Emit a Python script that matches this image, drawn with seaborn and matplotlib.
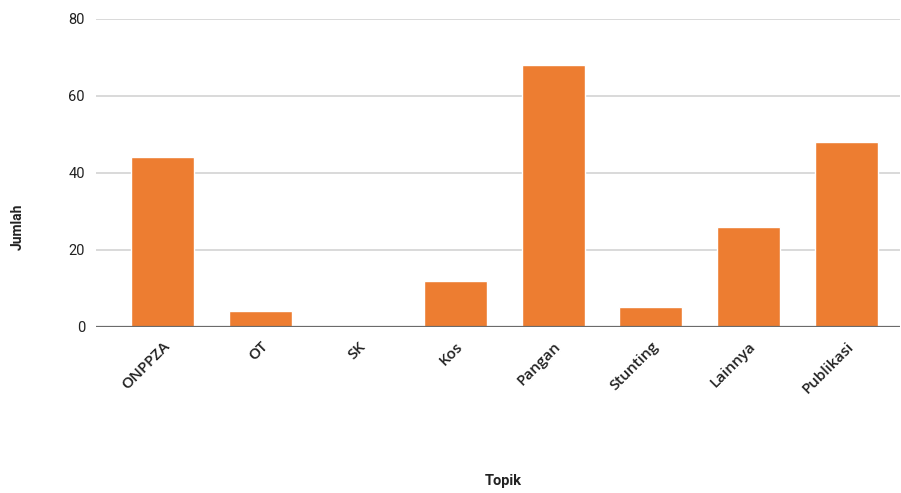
import matplotlib
matplotlib.use("Agg")
import matplotlib.pyplot as plt
import seaborn as sns
import pandas as pd

categories = ["ONPPZA", "OT", "SK", "Kos", "Pangan", "Stunting", "Lainnya", "Publikasi"]
counts = [44, 4, 0, 12, 68, 5, 26, 48]
y_ticks = [0, 20, 40, 60, 80]

df = pd.DataFrame({"Topik": categories, "Jumlah": counts})

sns.set_theme(style="white")
plt.rcParams["font.family"] = ["Open Sans", "DejaVu Sans"]

fig = plt.figure(figsize=(9.01, 4.93), dpi=100)
ax = fig.add_axes([96 / 901, 1 - 326.7 / 493, (900 - 96) / 901, (326.7 - 19) / 493])

sns.barplot(data=df, x="Topik", y="Jumlah", color="#ED7D31", width=0.645,
            saturation=1, ax=ax, zorder=3)

ax.set_ylim(0, 80)
ax.set_xlim(-0.68, 7.55)
ax.set_yticks(y_ticks)
ax.set_yticklabels([str(t) for t in y_ticks], fontsize=10.5, color="#222222",
                   fontfamily="Roboto")
ax.yaxis.grid(True, color="#d0d0d0", linewidth=1.1, zorder=0)
ax.set_axisbelow(True)
ax.axhline(0, color="#6b6b6b", linewidth=1.6, zorder=4)
for s in ax.spines.values():
    s.set_visible(False)
ax.tick_params(axis="y", length=0, pad=8)
ax.tick_params(axis="x", length=0, pad=9)

ax.set_xticks(range(len(categories)))
ax.set_xticklabels(categories, rotation=45, ha="right", rotation_mode="anchor",
                   fontsize=11, color="#222222", fontweight="semibold")

ax.set_xlabel("")
ax.set_ylabel("")
fig.text(18 / 901, 1 - 227 / 493, "Jumlah", rotation=90, ha="center", va="center",
         fontsize=10, fontweight="bold", color="#222222", fontfamily="Roboto")
fig.text(503 / 901, 1 - 481 / 493, "Topik", ha="center", va="center",
         fontsize=10.5, fontweight="bold", color="#222222", fontfamily="Roboto")

fig.savefig("out.png", dpi=100)
